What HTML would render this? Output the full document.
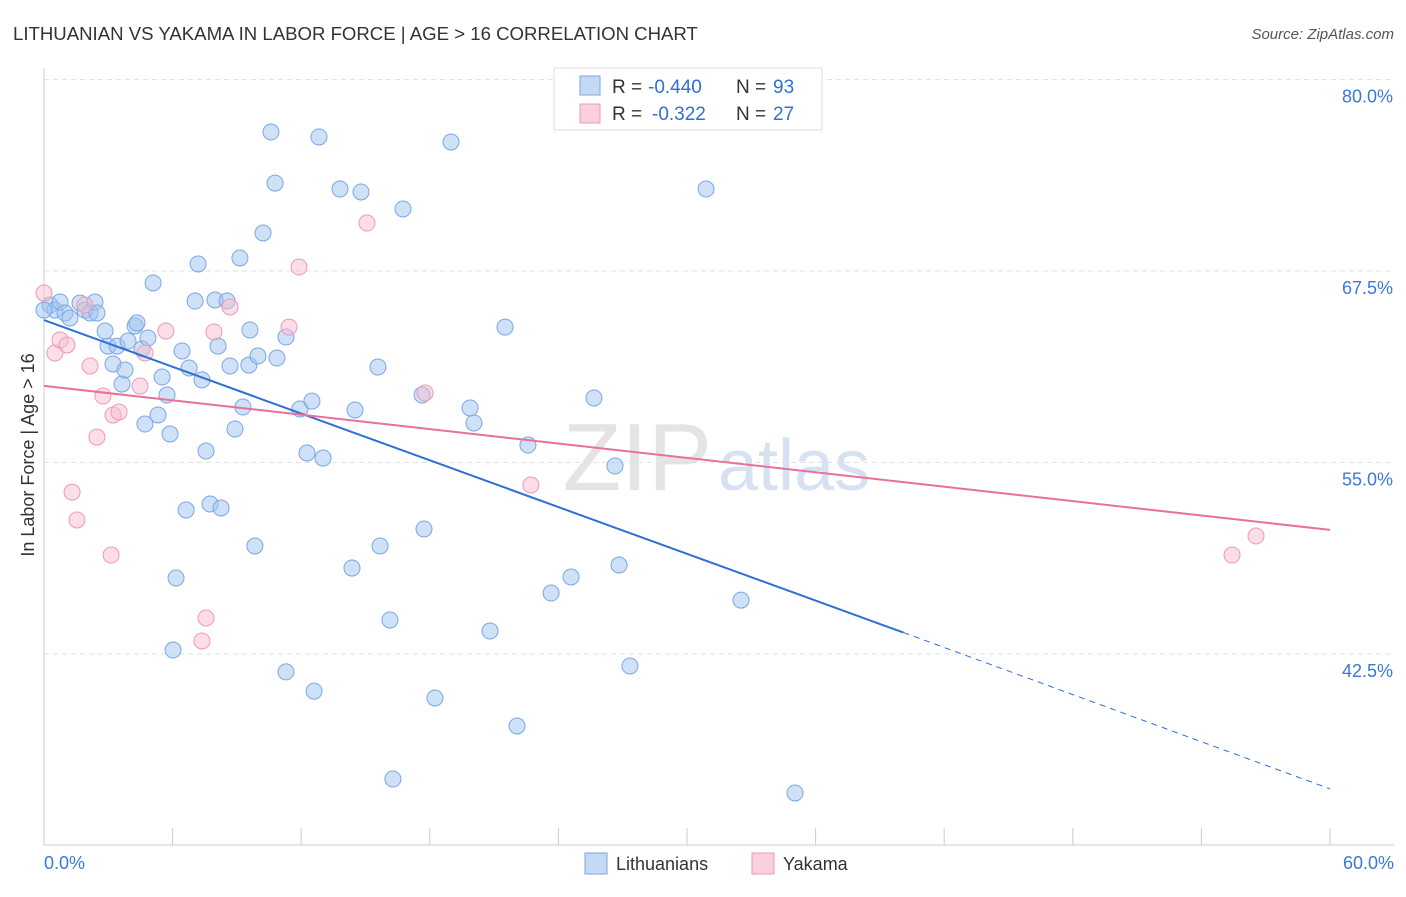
<!DOCTYPE html>
<html><head><meta charset="utf-8"><style>
body{margin:0;background:#fff;font-family:"Liberation Sans",sans-serif;}
svg text{font-family:"Liberation Sans",sans-serif;}
</style></head><body>
<svg id="c" width="1406" height="892">
<text x="13" y="40" font-size="18.6" fill="#333">LITHUANIAN VS YAKAMA IN LABOR FORCE | AGE &gt; 16 CORRELATION CHART</text>
<text x="1394" y="39" font-size="15" fill="#555" font-style="italic" text-anchor="end">Source: ZipAtlas.com</text>
<text x="712" y="490" font-size="96" fill="#e4e4e4" text-anchor="end" font-family="Liberation Serif">ZIP</text>
<text x="718" y="490" font-size="72" fill="#d6e2f2">atlas</text>
<g id="grid"></g><g id="axes"></g><g id="pts"></g><g id="trend"></g>
<text transform="translate(34,455) rotate(-90)" font-size="18" fill="#333" text-anchor="middle">In Labor Force | Age &gt; 16</text>
<text x="44" y="869" font-size="18" fill="#3a78d8">0.0%</text>
<text x="1394" y="869" font-size="18" fill="#3a78d8" text-anchor="end">60.0%</text>
<g>
<rect x="554" y="68" width="268" height="62" fill="#fff" stroke="#ddd"/>
<rect x="580" y="76" width="20" height="19" fill="#c5d9f5" stroke="#7aa6e6"/>
<rect x="580" y="104" width="20" height="19" fill="#fbd0dc" stroke="#ef9ab5"/>
<text x="612" y="93" font-size="19" fill="#333">R =</text>
<text x="648" y="93" font-size="19" fill="#2f6fd6">-0.440</text>
<text x="736" y="93" font-size="19" fill="#333">N =</text>
<text x="773" y="93" font-size="19" fill="#2f6fd6">93</text>
<text x="612" y="120" font-size="19" fill="#333">R =</text>
<text x="652" y="120" font-size="19" fill="#2f6fd6">-0.322</text>
<text x="736" y="120" font-size="19" fill="#333">N =</text>
<text x="773" y="120" font-size="19" fill="#2f6fd6">27</text>
</g>
<g>
<rect x="585" y="853" width="22" height="21" fill="#c5d9f5" stroke="#7aa6e6"/>
<text x="616" y="870" font-size="18" fill="#333">Lithuanians</text>
<rect x="752" y="853" width="22" height="21" fill="#fbd0dc" stroke="#ef9ab5"/>
<text x="783" y="870" font-size="18" fill="#333">Yakama</text>
</g>
</svg>
<script>
const yTicks=[80,67.5,55,42.5];
const xTickVals=[0,6,12,18,24,30,36,42,48,54,60];
const bluePx=[[50,305],[55,310],[60,302],[65,313],[70,318],[80,303],[85,310],[90,313],[95,302],[97,313],[105,331],[108,346],[113,364],[117,346],[122,384],[125,370],[128,341],[135,326],[137,323],[142,349],[145,424],[148,338],[153,283],[158,415],[162,377],[167,395],[170,434],[176,578],[173,650],[182,351],[186,510],[189,368],[195,301],[198,264],[202,380],[206,451],[210,504],[215,300],[218,346],[221,508],[227,301],[230,366],[235,429],[240,258],[243,407],[249,365],[250,330],[255,546],[258,356],[263,233],[271,132],[275,183],[277,358],[286,337],[286,672],[300,409],[307,453],[312,401],[314,691],[319,137],[323,458],[340,189],[352,568],[355,410],[361,192],[378,367],[380,546],[390,620],[393,779],[403,209],[424,529],[422,395],[435,698],[451,142],[470,408],[474,423],[490,631],[505,327],[517,726],[528,445],[551,593],[571,577],[594,398],[615,466],[619,565],[630,666],[706,189],[741,600],[795,793],[44,310]];
const pinkPx=[[44,293],[55,353],[60,340],[67,345],[72,492],[77,520],[90,366],[97,437],[103,396],[111,555],[113,415],[119,412],[140,386],[145,353],[166,331],[206,618],[202,641],[214,332],[230,307],[289,327],[299,267],[367,223],[425,393],[531,485],[1232,555],[1256,536],[85,305]];
const blueX=bluePx.map(p=>+((p[0]-44)/21.433).toFixed(2)), blueY=bluePx.map(p=>+(80-(p[1]-79.5)/15.32).toFixed(2));
const pinkX=pinkPx.map(p=>+((p[0]-44)/21.433).toFixed(2)), pinkY=pinkPx.map(p=>+(80-(p[1]-79.5)/15.32).toFixed(2));
const blueTrend=[[0,64.3],[40.1,43.9],[60,33.7]];
const pinkTrend=[[0,60.0],[60,50.6]];
const X=v=>44+v*21.433, Y=v=>79.5+(80-v)*15.32;
const NS='http://www.w3.org/2000/svg';
function mk(tag,attrs,parent){const e=document.createElementNS(NS,tag);for(const k in attrs)e.setAttribute(k,attrs[k]);document.getElementById(parent).appendChild(e);return e;}
yTicks.forEach(v=>{
 const l=mk('line',{x1:44,x2:1394,y1:Y(v),y2:Y(v),stroke:'#e2e2e2','stroke-dasharray':'5,4'},'grid');
 
 
 const t=mk('text',{x:1393,y:Y(v)+23,'font-size':18,fill:'#3a78d8','text-anchor':'end'},'grid');t.textContent=v.toFixed(1)+'%';
 
 
});
let a=mk('line',{x1:44,x2:44,y1:68,y2:845,stroke:'#ccc'},'axes');


a=mk('line',{x1:44,x2:1394,y1:845,y2:845,stroke:'#ccc'},'axes');


xTickVals.forEach(v=>{const t=mk('line',{x1:X(v),x2:X(v),y1:828,y2:845,stroke:'#ccc'},'axes');
 
 });
blueX.forEach((x,i)=>{const c=mk('circle',{cx:X(x),cy:Y(blueY[i]),r:8,fill:'rgba(160,195,240,0.5)',stroke:'#7aa6e6','stroke-width':1},'pts');
 
 });
pinkX.forEach((x,i)=>{const c=mk('circle',{cx:X(x),cy:Y(pinkY[i]),r:8,fill:'rgba(248,190,208,0.5)',stroke:'#ef9ab5','stroke-width':1},'pts');
 
 });
let t=mk('line',{x1:X(blueTrend[0][0]),y1:Y(blueTrend[0][1]),x2:X(blueTrend[1][0]),y2:Y(blueTrend[1][1]),stroke:'#2f6fd6','stroke-width':2},'trend');


t=mk('line',{x1:X(blueTrend[1][0]),y1:Y(blueTrend[1][1]),x2:X(blueTrend[2][0]),y2:Y(blueTrend[2][1]),stroke:'#2f6fd6','stroke-width':1,'stroke-dasharray':'6,5'},'trend');


t=mk('line',{x1:X(pinkTrend[0][0]),y1:Y(pinkTrend[0][1]),x2:X(pinkTrend[1][0]),y2:Y(pinkTrend[1][1]),stroke:'#e8709a','stroke-width':2},'trend');


</script>
</body></html>
